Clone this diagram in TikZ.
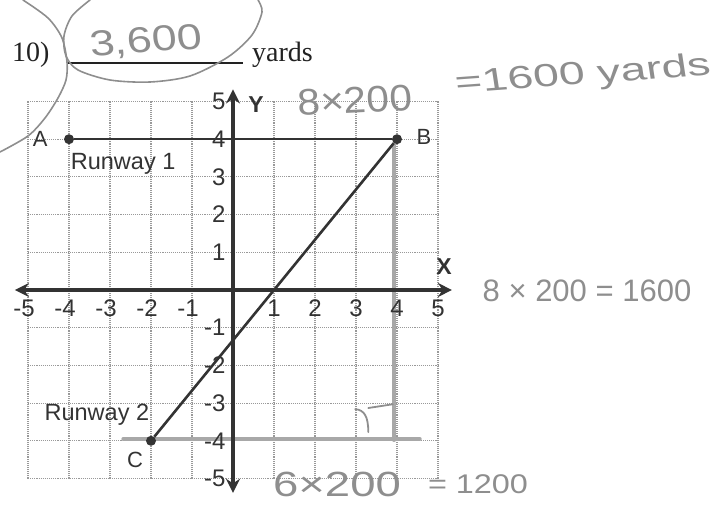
\documentclass[tikz,border=0pt]{standalone}
\usepackage{fontspec}
\setmainfont{Liberation Serif}
\newfontfamily\labfont{Liberation Sans}
\usetikzlibrary{arrows.meta}
\definecolor{ink}{HTML}{333333}
\definecolor{printink}{HTML}{222222}
\definecolor{pencil}{HTML}{8E8E8E}
\definecolor{pencillight}{HTML}{A8A8A8}
\definecolor{gridc}{HTML}{999999}
\begin{document}
\begin{tikzpicture}[x=1pt,y=-1pt,
  axisline/.style={line width=4.2pt, draw=ink, {Stealth[length=14pt,width=14pt]}-{Stealth[length=14pt,width=14pt]}},
  runway/.style={line width=2.6pt, draw=ink},
  gridline/.style={draw=gridc, line width=1.1pt, densely dotted},
  ticklab/.style={font=\labfont\fontsize{24}{24}\selectfont, text=ink, inner sep=0pt},
  ptlab/.style={font=\labfont\fontsize{22}{22}\selectfont, text=ink, inner sep=0pt},
  axlab/.style={font=\labfont\bfseries\fontsize{23}{23}\selectfont, text=ink, inner sep=0pt},
  hand/.style={font=\labfont, text=pencil, inner sep=0pt},
  pencilline/.style={draw=pencil, line width=2pt, line cap=round, line join=round},
  ptdot/.style={circle, fill=ink, inner sep=0pt, minimum size=10pt},
  printed/.style={font=\fontsize{28}{28}\selectfont, text=printink, inner sep=0pt}
]
\useasboundingbox (0,0) rectangle (718,505);

% ---------- printed question line ----------
\node[printed, anchor=base west] (qnum) at (12,62) {10)};
\node[printed, anchor=base west] (unit) at (252,62) {yards};
\coordinate (ulL) at (67,63);
\coordinate (ulR) at (243,63);
\draw[printink, line width=1.4pt] (ulL) -- (ulR);

% ---------- pencil answer ----------
\node[hand, font=\labfont\fontsize{36}{36}\selectfont, xscale=1.25, rotate=5] (ans) at (146,42) {3,600};
\draw[pencilline, line width=1.6pt] plot[smooth] coordinates {(90,0) (72,16) (64,36) (66,56) (78,70) (110,80) (150,82) (190,76) (228,57) (252,35) (262,12) (258,0)};
\draw[pencilline, line width=1.6pt] plot[smooth] coordinates {(23,0) (48,18) (62,38) (67,62) (66,80) (58,98) (45,118) (28,136) (0,152)};

% ---------- graph ----------
\begin{scope}[shift={(233pt,-290pt)}, x=41pt, y=37.7pt]
  \foreach \i in {-5,...,5} {
    \draw[gridline] (\i,-5) -- (\i,5);
    \draw[gridline] (-5,\i) -- (5,\i);
  }
  % pencil work (graph), under the ink
  \coordinate (vtop) at (3.93,3.85);
  \coordinate (vbot) at (3.93,-3.98);
  \coordinate (hl) at (-2.68,-3.95);
  \coordinate (hr) at (4.56,-3.95);
  \draw[pencilline, draw=pencillight, line width=4pt] (vtop) -- (vbot);
  \draw[pencilline, draw=pencillight, line width=3.5pt] (hl) -- (hr);
  \coordinate (ra1) at (2.98,-3.16);
  \coordinate (ra3) at (3.3,-3.77);
  \coordinate (ra4) at (3.3,-3.13);
  \coordinate (ra5) at (3.9,-3.03);
  \draw[pencilline, line width=1.8pt] (ra1) .. controls (3.2,-3.18) and (3.3,-3.35) .. (ra3);
  \draw[pencilline, line width=1.8pt] (ra4) -- (ra5);
  % axes
  \coordinate (xl) at (-5.32,0);
  \coordinate (xr) at (5.34,0);
  \coordinate (yt) at (0,5.32);
  \coordinate (yb) at (0,-5.38);
  \draw[axisline] (xl) -- (xr);
  \draw[axisline] (yb) -- (yt);
  \node[axlab] (ylab) at (0.56,4.92) {Y};
  \node[axlab] (xlab) at (5.15,0.61) {X};
  % tick labels
  \foreach \i in {1,...,5} {
    \node[ticklab, anchor=north] at (\i,-0.25) {\i};
    \node[ticklab, anchor=north east] at (-\i+0.17,-0.25) {-\i};
    \node[ticklab, anchor=east] at (-0.18,\i) {\i};
    \node[ticklab, anchor=east] at (-0.18,-\i) {-\i};
  }
  % runways
  \node[ptdot] (A) at (-4,4) {};
  \node[ptdot] (B) at (4,4) {};
  \node[ptdot] (C) at (-2,-4) {};
  \draw[runway] (A) -- (B);
  \draw[runway] (B) -- (C);
  \node[ptlab] (Alab) at (-4.7,4) {A};
  \node[ptlab] (Blab) at (4.66,4.05) {B};
  \node[ptlab] (Clab) at (-2.39,-4.5) {C};
  \node[ptlab, font=\labfont\fontsize{23.5}{23.5}\selectfont] (r1) at (-2.68,3.34) {Runway 1};
  \node[ptlab, font=\labfont\fontsize{23.5}{23.5}\selectfont] (r2) at (-3.32,-3.32) {Runway 2};
\end{scope}

% ---------- pencil notes ----------
\node[hand, font=\labfont\fontsize{37}{37}\selectfont, xscale=1.1, rotate=3] (n1) at (355,100) {8×200};
\node[hand, font=\labfont\fontsize{32}{32}\selectfont, xscale=1.45, rotate=6] (n2) at (583,76) {=1600 yards};
\node[hand, font=\labfont\fontsize{31}{31}\selectfont] (n3) at (587,291) {8 × 200 = 1600};
\node[hand, font=\labfont\fontsize{35}{35}\selectfont, xscale=1.3] (n4) at (337,484) {6×200};
\node[hand, font=\labfont\fontsize{27}{27}\selectfont, xscale=1.2] (n5) at (478,484) {= 1200};
\end{tikzpicture}
\end{document}
